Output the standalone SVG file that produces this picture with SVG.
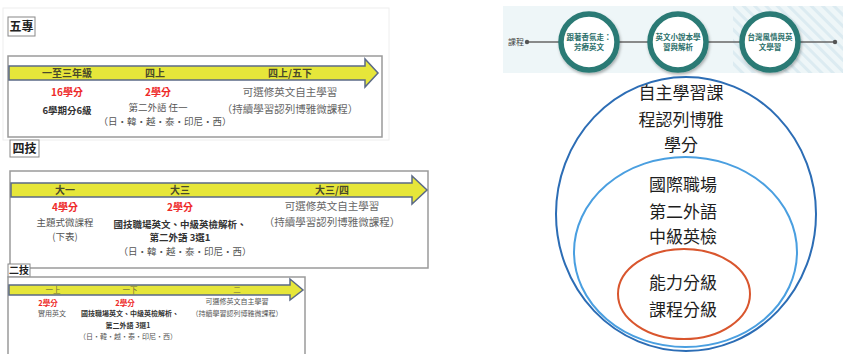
<svg xmlns="http://www.w3.org/2000/svg" width="850" height="354" viewBox="0 0 850 354">
<defs>
<style>
.t{font-family:"Noto Sans CJK TC","Noto Sans",sans-serif;text-anchor:middle}
.lbl{font-size:12px;font-weight:bold;fill:#222}
.lblbox{fill:#fff;stroke:#888;stroke-width:1}
.frame{fill:#fff;stroke:#9a9a9a;stroke-width:1.5}
.arrow{fill:#e6e63a;stroke:#5b6a86;stroke-width:1.5}
.ah{font-size:10px;font-weight:bold;fill:#4a4a2a}
.red{font-size:10px;font-weight:bold;fill:#ee2a2a}
.g{font-size:9.5px;fill:#555}
.gb{font-size:9.5px;font-weight:bold;fill:#333}
.g2{font-size:10.5px;fill:#666}
.s{font-size:7px;fill:#555}
.sb{font-size:7px;font-weight:bold;fill:#333}
.sr{font-size:7.5px;font-weight:bold;fill:#ee2a2a}
.sa{font-size:7.5px;fill:#6a6a3a}
.ring{fill:#fff;stroke:#2b7a74;stroke-width:5.5}
.ct{font-size:7.5px;font-weight:bold;fill:#2b6f6a}
.big{font-size:17px;fill:#1e1e1e}
</style>
<pattern id="hatch" width="8" height="8" patternUnits="userSpaceOnUse" patternTransform="rotate(-45)">
<rect width="8" height="8" fill="#eef6f8"/>
<rect width="3" height="8" fill="#dcebf1"/>
</pattern>
<filter id="sh" x="-20%" y="-20%" width="140%" height="140%">
<feDropShadow dx="1" dy="2" stdDeviation="1.5" flood-color="#000" flood-opacity="0.3"/>
</filter>
</defs>

<!-- left: 五專 -->
<g id="wuzhuan">
<rect x="3" y="8" width="386" height="132" fill="none" stroke="#eeeeee"/>
<rect class="lblbox" x="8" y="17" width="27" height="19"/>
<text class="t lbl" x="21.5" y="31">五專</text>
<rect class="frame" x="8" y="56" width="374" height="81"/>
<polygon class="arrow" points="9,66 365,66 365,59 378,73 365,87 365,80 9,80"/>
<text class="t ah" x="67" y="77">一至三年級</text>
<text class="t ah" x="155" y="77">四上</text>
<text class="t ah" x="290" y="77">四上/五下</text>
<text class="t red" x="67" y="96">16學分</text>
<text class="t red" x="158" y="96">2學分</text>
<text class="t gb" x="67" y="114">6學期分6級</text>
<text class="t g" x="158" y="111">第二外語 任一</text>
<text class="t g" x="165" y="125">（日・韓・越・泰・印尼・西）</text>
<text class="t g2" x="290" y="96">可選修英文自主學習</text>
<text class="t g2" x="290" y="113">（持續學習認列博雅微課程）</text>
</g>

<!-- left: 四技 -->
<g id="siji">
<rect class="lblbox" x="10" y="140" width="29" height="17"/>
<text class="t lbl" x="24.5" y="153">四技</text>
<rect class="frame" x="10" y="171" width="418" height="97"/>
<polygon class="arrow" points="11,183 412,183 412,176 427,190 412,204 412,197 11,197"/>
<text class="t ah" x="65" y="194">大一</text>
<text class="t ah" x="180" y="194">大三</text>
<text class="t ah" x="332" y="194">大三/四</text>
<text class="t red" x="65" y="211">4學分</text>
<text class="t red" x="180" y="211">2學分</text>
<text class="t g" x="65" y="226">主題式微課程</text>
<text class="t g" x="65" y="240">(下表)</text>
<text class="t gb" x="180" y="228">國技職場英文、中級英檢解析、</text>
<text class="t gb" x="180" y="241">第二外語 3選1</text>
<text class="t g" x="185" y="255">（日・韓・越・泰・印尼・西）</text>
<text class="t g2" x="332" y="210">可選修英文自主學習</text>
<text class="t g2" x="332" y="226">（持續學習認列博雅微課程）</text>
</g>

<!-- left: 二技 -->
<g id="erji">
<rect class="lblbox" x="8" y="264" width="22" height="13"/>
<text class="t" x="19" y="274" style="font-size:10px;font-weight:bold;fill:#222">二技</text>
<rect class="frame" x="8" y="277" width="297" height="80"/>
<polygon class="arrow" points="9,285 290,285 290,279 303,290 290,300 290,295 9,295"/>
<text class="t sa" x="53" y="293">一上</text>
<text class="t sa" x="130" y="293">一下</text>
<text class="t sa" x="237" y="293">二</text>
<text class="t sr" x="48" y="306">2學分</text>
<text class="t sr" x="125" y="306">2學分</text>
<text class="t s" x="52" y="316">實用英文</text>
<text class="t sb" x="130" y="316">國技職場英文、中級英檢解析、</text>
<text class="t sb" x="128" y="328">第二外語 3選1</text>
<text class="t s" x="128" y="339">（日・韓・越・泰・印尼・西）</text>
<text class="t s" x="237" y="304">可選修英文自主學習</text>
<text class="t s" x="237" y="316">（持續學習認列博雅微課程）</text>
</g>

<!-- right banner -->
<g id="banner">
<rect x="503" y="6" width="340" height="67" fill="#eef6f8"/>
<rect x="733" y="6" width="110" height="67" fill="url(#hatch)"/>
<text x="508" y="45" style="font-family:'Noto Sans CJK TC',sans-serif;font-size:8px;fill:#444">課程</text>
</g>
<g id="connectors">
<line x1="527" y1="42" x2="835" y2="42" stroke="#666" stroke-width="1.5"/>
<circle cx="527" cy="42" r="2.2" fill="#555"/>
<circle cx="835" cy="42" r="2.2" fill="#555"/>
</g>
<g id="c1">
<circle class="ring" cx="589" cy="42" r="28" filter="url(#sh)"/>
<text class="t ct" x="589" y="40">跟著香氛走：</text>
<text class="t ct" x="589" y="50">芳療英文</text>
</g>
<g id="c2">
<circle class="ring" cx="678" cy="42" r="28" filter="url(#sh)"/>
<text class="t ct" x="678" y="40">英文小說本學</text>
<text class="t ct" x="678" y="50">習與解析</text>
</g>
<g id="c3">
<circle class="ring" cx="770" cy="42" r="28" filter="url(#sh)"/>
<text class="t ct" x="770" y="40">台灣風情與英</text>
<text class="t ct" x="770" y="50">文學習</text>
</g>

<!-- nested ellipses -->
<g id="outer">
<ellipse cx="686" cy="214" rx="130" ry="137" fill="none" stroke="#2c6db5" stroke-width="2"/>
<text class="t big" x="681" y="99">自主學習課</text>
<text class="t big" x="681" y="126">程認列博雅</text>
<text class="t big" x="681" y="151">學分</text>
</g>
<g id="middle">
<ellipse cx="685.5" cy="252" rx="111.5" ry="95" fill="none" stroke="#4a9fe0" stroke-width="2"/>
<text class="t big" x="683" y="191">國際職場</text>
<text class="t big" x="683" y="218">第二外語</text>
<text class="t big" x="683" y="243">中級英檢</text>
</g>
<g id="inner">
<ellipse cx="684" cy="294" rx="66" ry="45" fill="none" stroke="#d9562e" stroke-width="2"/>
<text class="t big" x="683" y="289">能力分級</text>
<text class="t big" x="683" y="316">課程分級</text>
</g>
</svg>
